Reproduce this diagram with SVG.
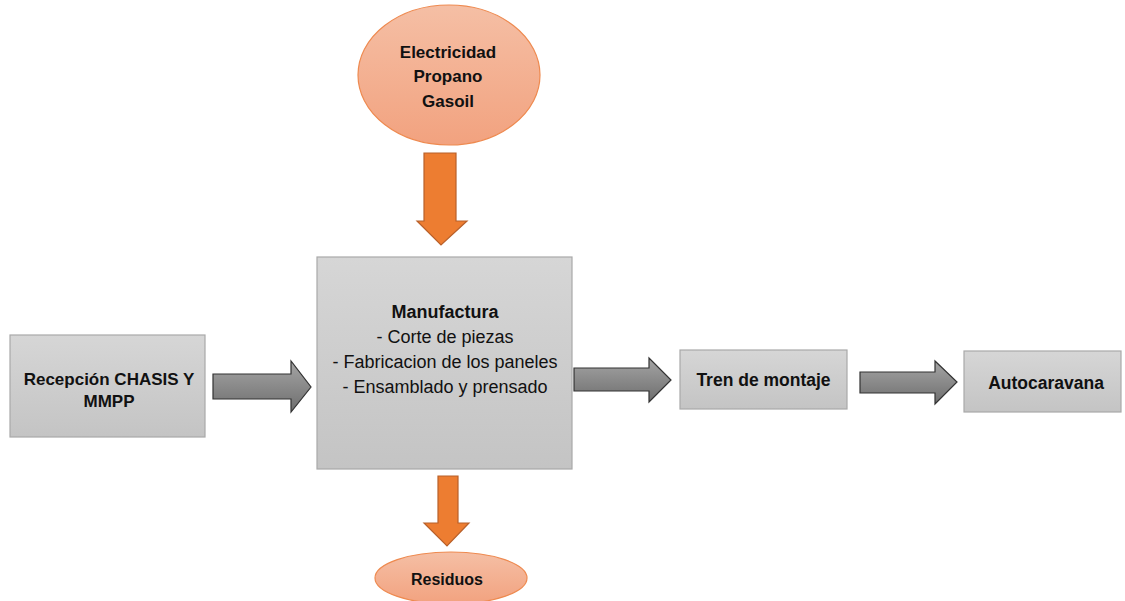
<svg xmlns="http://www.w3.org/2000/svg" width="1125" height="601" viewBox="0 0 1125 601">
<defs>
<linearGradient id="gOr" x1="0" y1="0" x2="0" y2="1">
<stop offset="0" stop-color="#F5BFA5"/>
<stop offset="1" stop-color="#F2A27F"/>
</linearGradient>
<linearGradient id="gBox" x1="0" y1="0" x2="0" y2="1">
<stop offset="0" stop-color="#D6D6D6"/>
<stop offset="1" stop-color="#C4C4C4"/>
</linearGradient>
<linearGradient id="gArr" x1="0" y1="0" x2="0" y2="1">
<stop offset="0" stop-color="#A5A5A5"/>
<stop offset="1" stop-color="#6E6E6E"/>
</linearGradient>
</defs>
<style>
.box{fill:url(#gBox);stroke:#A9A9A9;stroke-width:1.2}
.ell{fill:url(#gOr);stroke:#EE8A50;stroke-width:1.2}
.oarr{fill:#ED7D31;stroke:#B8602A;stroke-width:1.2}
.garr{fill:url(#gArr);stroke:#333333;stroke-width:1.2}
.b{font-family:"Liberation Sans",Arial,sans-serif;font-weight:bold;fill:#111111;text-anchor:middle}
.r{font-family:"Liberation Sans",Arial,sans-serif;font-size:18px;fill:#111111;text-anchor:middle}
</style>
<g id="energia">
<ellipse class="ell" cx="449" cy="75" rx="91" ry="70"/>
<text class="b" font-size="17" x="448" y="58">Electricidad</text>
<text class="b" font-size="17" x="448" y="82">Propano</text>
<text class="b" font-size="17" x="448" y="107">Gasoil</text>
</g>
<g id="recepcion">
<rect class="box" x="10" y="335" width="195" height="102"/>
<text class="b" font-size="17" x="109" y="385">Recepción CHASIS Y</text>
<text class="b" font-size="17" x="109" y="407">MMPP</text>
</g>
<g id="manufactura">
<rect class="box" x="317" y="257" width="255" height="212"/>
<text class="b" font-size="18" x="445" y="318">Manufactura</text>
<text class="r" x="445" y="343">- Corte de piezas</text>
<text class="r" x="445" y="368">- Fabricacion de los paneles</text>
<text class="r" x="445" y="393">- Ensamblado y prensado</text>
</g>
<g id="tren">
<rect class="box" x="680" y="350" width="167" height="59"/>
<text class="b" font-size="17.5" x="763.5" y="386">Tren de montaje</text>
</g>
<g id="autocaravana">
<rect class="box" x="964" y="351" width="157" height="61"/>
<text class="b" font-size="17.5" x="1046" y="389">Autocaravana</text>
</g>
<g id="residuos">
<ellipse class="ell" cx="451" cy="578" rx="76" ry="26"/>
<text class="b" font-size="16" x="447" y="585">Residuos</text>
</g>
<g id="connectors">
<polygon class="oarr" points="424,153 456,153 456,221 467,221 441,245 417,221 424,221"/>
<polygon class="oarr" points="438,476 458,476 458,523 469,523 447,546 424,523 438,523"/>
<polygon class="garr" points="213,374 291,374 291,361 311,387 291,412 291,399 213,399"/>
<polygon class="garr" points="574,368 649,368 649,358 671,380 649,402 649,391 574,391"/>
<polygon class="garr" points="860,372 935,372 935,361 957,382 935,404 935,393 860,393"/>
</g>
</svg>
